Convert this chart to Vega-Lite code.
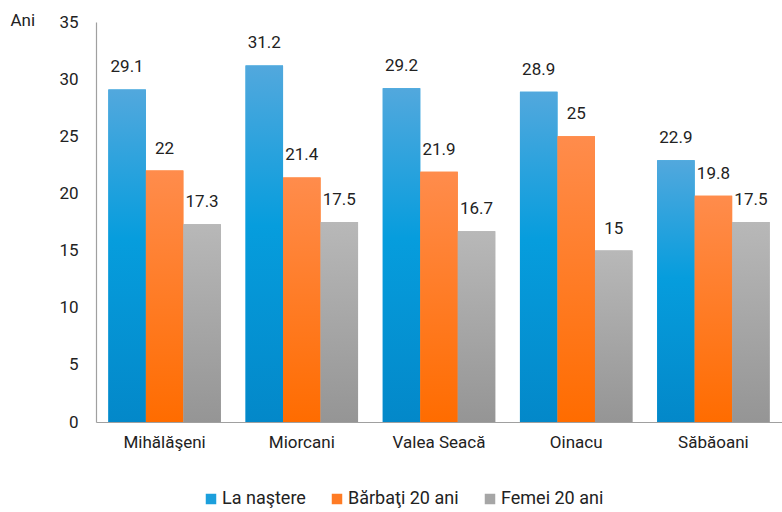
{
  "$schema": "https://vega.github.io/schema/vega-lite/v6.json",
  "autosize": {"type": "none"},
  "padding": {"left": 96, "top": 22, "right": 0, "bottom": 90},
  "width": 686,
  "height": 400,
  "background": "white",
  "config": {
    "view": {"stroke": null},
    "font": "Roboto",
    "axis": {"labelFont": "Roboto", "labelFontSize": 17, "labelColor": "#222", "ticks": false, "grid": false, "domainColor": "#a0a0a0", "domainWidth": 1.2},
    "legend": {"labelFont": "Roboto", "labelFontSize": 18, "labelColor": "#222"}
  },
  "data": {
    "values": [
      {"loc": "Mihălăşeni", "ser": "La naştere", "v": 29.1},
      {"loc": "Mihălăşeni", "ser": "Bărbaţi 20 ani", "v": 22},
      {"loc": "Mihălăşeni", "ser": "Femei 20 ani", "v": 17.3},
      {"loc": "Miorcani", "ser": "La naştere", "v": 31.2},
      {"loc": "Miorcani", "ser": "Bărbaţi 20 ani", "v": 21.4},
      {"loc": "Miorcani", "ser": "Femei 20 ani", "v": 17.5},
      {"loc": "Valea Seacă", "ser": "La naştere", "v": 29.2},
      {"loc": "Valea Seacă", "ser": "Bărbaţi 20 ani", "v": 21.9},
      {"loc": "Valea Seacă", "ser": "Femei 20 ani", "v": 16.7},
      {"loc": "Oinacu", "ser": "La naştere", "v": 28.9},
      {"loc": "Oinacu", "ser": "Bărbaţi 20 ani", "v": 25},
      {"loc": "Oinacu", "ser": "Femei 20 ani", "v": 15},
      {"loc": "Săbăoani", "ser": "La naştere", "v": 22.9},
      {"loc": "Săbăoani", "ser": "Bărbaţi 20 ani", "v": 19.8},
      {"loc": "Săbăoani", "ser": "Femei 20 ani", "v": 17.5}
    ]
  },
  "encoding": {
    "x": {
      "field": "loc", "type": "nominal", "sort": null,
      "scale": {"paddingInner": 0.18, "paddingOuter": 0.09},
      "axis": {"title": null, "labelAngle": 0, "labelPadding": 12}
    },
    "xOffset": {"field": "ser", "type": "nominal", "sort": ["La naştere", "Bărbaţi 20 ani", "Femei 20 ani"], "scale": {"paddingInner": 0, "paddingOuter": 0}},
    "y": {
      "field": "v", "type": "quantitative",
      "scale": {"domain": [0, 35], "nice": false},
      "axis": {"values": [0, 5, 10, 15, 20, 25, 30, 35], "labelPadding": 18, "title": "Ani", "titleAngle": 0, "titleAlign": "left", "titleBaseline": "middle", "titleX": -86, "titleY": -2, "titleFont": "Roboto", "titleFontSize": 17, "titleFontWeight": "normal", "titleColor": "#222"}
    }
  },
  "layer": [
    {
      "mark": {"type": "bar"},
      "encoding": {
        "color": {
          "field": "ser", "type": "nominal",
          "sort": ["La naştere", "Bărbaţi 20 ani", "Femei 20 ani"],
          "scale": {
            "domain": ["La naştere", "Bărbaţi 20 ani", "Femei 20 ani"],
            "range": ["#1c9fdc", "#ff7b24", "#a6a6a6"]
          },
          "legend": {"title": null, "orient": "none", "direction": "horizontal", "legendX": 106, "legendY": 468, "symbolType": "square", "symbolSize": 110, "symbolStrokeWidth": 0, "labelOffset": 2, "columnPadding": 22}
        }
      }
    },
    {
      "mark": {"type": "bar"},
      "encoding": {
        "color": {
          "condition": [
            {"test": "datum.ser === 'La naştere'", "value": {"gradient": "linear", "x1": 0, "y1": 0, "x2": 0, "y2": 1, "stops": [{"offset": 0, "color": "#52a8dd"}, {"offset": 0.45, "color": "#069ddd"}, {"offset": 1, "color": "#0388c9"}]}},
            {"test": "datum.ser === 'Bărbaţi 20 ani'", "value": {"gradient": "linear", "x1": 0, "y1": 0, "x2": 0, "y2": 1, "stops": [{"offset": 0, "color": "#ff8c4c"}, {"offset": 1, "color": "#ff6c00"}]}}
          ],
          "value": {"gradient": "linear", "x1": 0, "y1": 0, "x2": 0, "y2": 1, "stops": [{"offset": 0, "color": "#b8b8b8"}, {"offset": 1, "color": "#959595"}]}
        }
      }
    },
    {
      "mark": {"type": "text", "baseline": "alphabetic", "dy": -17, "fontSize": 17, "color": "#222", "font": "Roboto"},
      "encoding": {"text": {"field": "v", "type": "quantitative"}}
    }
  ]
}
